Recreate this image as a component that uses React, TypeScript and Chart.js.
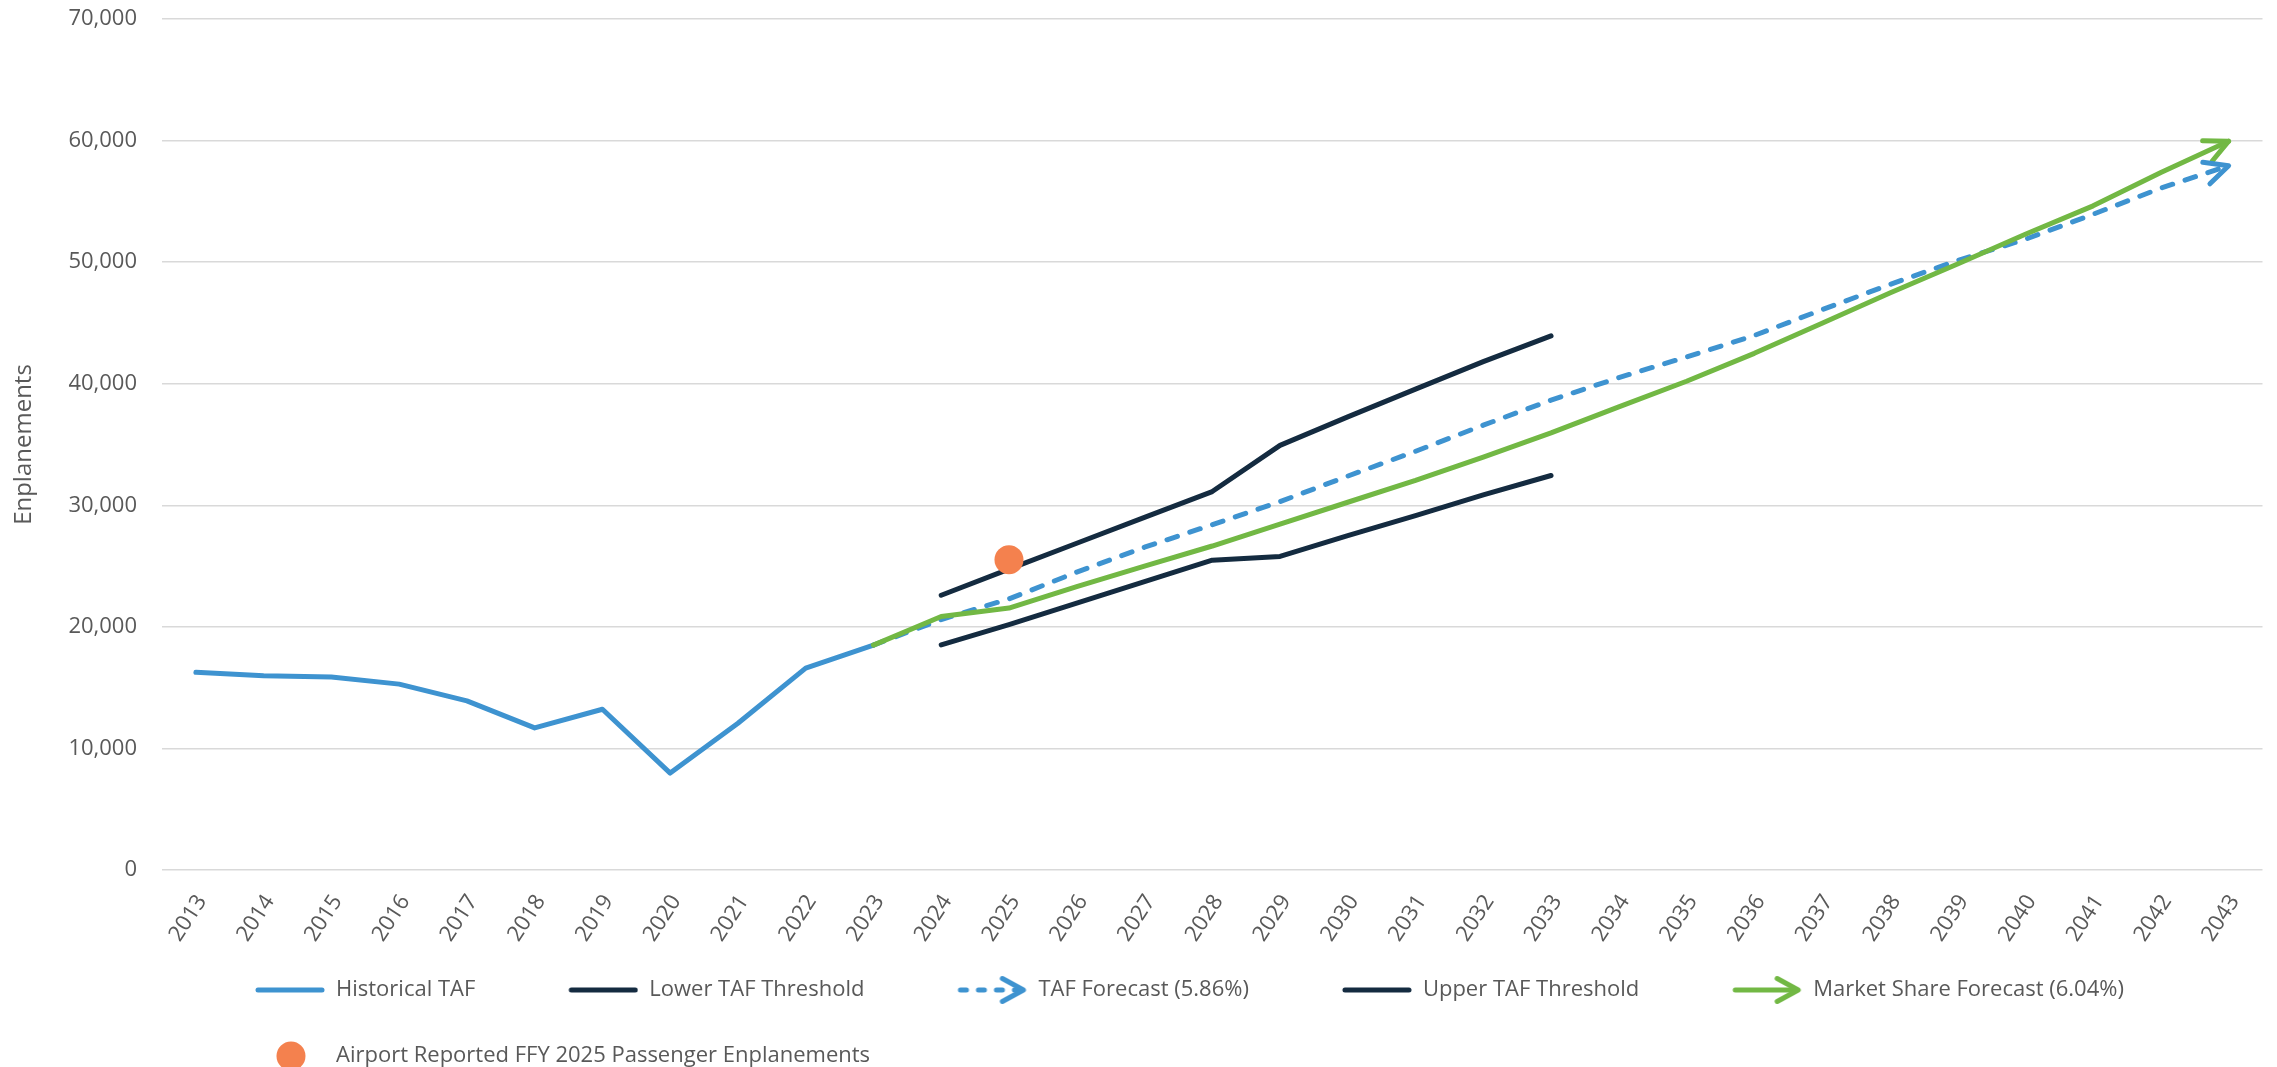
import React, { useEffect, useRef } from 'react';
import { Chart, registerables } from 'chart.js';

Chart.register(...registerables);

// ---------- DATA ----------
const years = [
  '2013', '2014', '2015', '2016', '2017', '2018', '2019', '2020', '2021', '2022',
  '2023', '2024', '2025', '2026', '2027', '2028', '2029', '2030', '2031', '2032',
  '2033', '2034', '2035', '2036', '2037', '2038', '2039', '2040', '2041', '2042', '2043',
];

const historicalTAF = [
  16260, 15980, 15870, 15290, 13910, 11690, 13220, 7970, 12070, 16610,
  18500, null, null, null, null, null, null, null, null, null,
  null, null, null, null, null, null, null, null, null, null, null,
];

const lowerThreshold = [
  null, null, null, null, null, null, null, null, null, null,
  null, 18520, 20190, 21950, 23720, 25480, 25790, 27500, 29150, 30850,
  32450, null, null, null, null, null, null, null, null, null, null,
];

const upperThreshold = [
  null, null, null, null, null, null, null, null, null, null,
  null, 22600, 24750, 26880, 29000, 31130, 34930, 37270, 39560, 41820,
  43940, null, null, null, null, null, null, null, null, null, null,
];

const tafForecast = [
  null, null, null, null, null, null, null, null, null, null,
  18500, 20600, 22300, 24500, 26550, 28400, 30300, 32400, 34440, 36590,
  38650, 40500, 42200, 43970, 46090, 48160, 50140, 51880, 53940, 56090, 57930,
];

const marketShareForecast = [
  null, null, null, null, null, null, null, null, null, null,
  18500, 20850, 21550, 23300, 25000, 26650, 28460, 30250, 32040, 33970,
  35950, 38100, 40200, 42500, 44980, 47460, 49850, 52290, 54630, 57380, 59950,
];

const reportedFFY2025 = [
  null, null, null, null, null, null, null, null, null, null,
  null, null, 25510, null, null, null, null, null, null, null,
  null, null, null, null, null, null, null, null, null, null, null,
];

const yTicksMax = 70000;
const yTickStep = 10000;

// ---------- STYLE ----------
const FONT = "'Open Sans', 'Noto Sans', 'DejaVu Sans', sans-serif";
const TEXT = '#595959';
const BLUE = '#3E93D0';
const NAVY = '#142B40';
const GREEN = '#72B844';
const ORANGE = '#F4814E';
const GRID = '#D9D9D9';

function drawChevron(ctx: CanvasRenderingContext2D, tx: number, ty: number, ang: number, len: number, spread: number) {
  ctx.beginPath();
  ctx.moveTo(tx - len * Math.cos(ang - spread), ty - len * Math.sin(ang - spread));
  ctx.lineTo(tx, ty);
  ctx.lineTo(tx - len * Math.cos(ang + spread), ty - len * Math.sin(ang + spread));
  ctx.stroke();
}

function makeIcon(kind: string, color: string): HTMLCanvasElement {
  const c = document.createElement('canvas');
  c.width = 119;
  c.height = 34;
  const ctx = c.getContext('2d') as CanvasRenderingContext2D;
  const y = 17;
  const x0 = 49;
  const x1 = 119;
  ctx.strokeStyle = color;
  ctx.fillStyle = color;
  ctx.lineWidth = 5;
  ctx.lineCap = 'round';
  ctx.lineJoin = 'round';
  if (kind === 'line') {
    ctx.beginPath();
    ctx.moveTo(x0 + 3, y);
    ctx.lineTo(x1 - 3, y);
    ctx.stroke();
  } else if (kind === 'dashArrow') {
    ctx.setLineDash([6, 12]);
    ctx.beginPath();
    ctx.moveTo(x0 + 3, y);
    ctx.lineTo(x1 - 8, y);
    ctx.stroke();
    ctx.setLineDash([]);
    drawChevron(ctx, x1 - 4, y, 0, 24, 0.5);
  } else if (kind === 'arrow') {
    ctx.beginPath();
    ctx.moveTo(x0 + 3, y);
    ctx.lineTo(x1 - 6, y);
    ctx.stroke();
    drawChevron(ctx, x1 - 4, y, 0, 24, 0.5);
  } else if (kind === 'dot') {
    ctx.beginPath();
    ctx.arc(85, y, 14.5, 0, Math.PI * 2);
    ctx.fill();
  }
  return c;
}

const arrowPlugin = {
  id: 'arrowHeads',
  afterLayout(chart: any) {
    // let rotated tick labels extend below the axis box (no clipping)
    const xs = chart.scales.x;
    if (xs) xs.bottom += 30;
  },
  afterDatasetsDraw(chart: any) {
    const ctx = chart.ctx as CanvasRenderingContext2D;
    chart.data.datasets.forEach((ds: any, i: number) => {
      if (!ds.arrowHead || !chart.isDatasetVisible(i)) return;
      const meta = chart.getDatasetMeta(i);
      const pts = meta.data.filter((p: any) => !p.skip && Number.isFinite(p.y));
      if (pts.length < 2) return;
      const a = pts[pts.length - 2];
      const b = pts[pts.length - 1];
      const ang = Math.atan2(b.y - a.y, b.x - a.x);
      ctx.save();
      ctx.strokeStyle = ds.borderColor;
      ctx.lineWidth = 5;
      ctx.lineCap = 'round';
      ctx.lineJoin = 'round';
      ctx.setLineDash([]);
      drawChevron(ctx, b.x, b.y, ang, 26, 0.45);
      ctx.restore();
    });
  },
};

export default function App() {
  const canvasRef = useRef<HTMLCanvasElement | null>(null);

  useEffect(() => {
    if (!canvasRef.current) return;

    const legendEntries = [
      { text: 'Historical TAF', ds: 5, icon: makeIcon('line', BLUE) },
      { text: 'Lower TAF Threshold', ds: 4, icon: makeIcon('line', NAVY) },
      { text: 'TAF Forecast (5.86%)', ds: 2, icon: makeIcon('dashArrow', BLUE) },
      { text: 'Upper TAF Threshold', ds: 3, icon: makeIcon('line', NAVY) },
      { text: 'Market Share Forecast (6.04%)', ds: 1, icon: makeIcon('arrow', GREEN) },
      { text: 'Airport Reported FFY 2025 Passenger Enplanements', ds: 0, icon: makeIcon('dot', ORANGE) },
    ];

    const font = { family: FONT, size: 22 };

    const chart = new Chart(canvasRef.current, {
      type: 'line',
      data: {
        labels: years,
        datasets: [
          {
            label: 'Airport Reported FFY 2025 Passenger Enplanements',
            data: reportedFFY2025,
            showLine: false,
            pointRadius: 14.5,
            pointHoverRadius: 14.5,
            pointBackgroundColor: ORANGE,
            pointBorderWidth: 0,
            borderColor: ORANGE,
            backgroundColor: ORANGE,
          },
          {
            label: 'Market Share Forecast (6.04%)',
            data: marketShareForecast,
            borderColor: GREEN,
            backgroundColor: GREEN,
            borderWidth: 5,
            pointRadius: 0,
            tension: 0,
            borderCapStyle: 'round',
            borderJoinStyle: 'round',
            arrowHead: true,
          } as any,
          {
            label: 'TAF Forecast (5.86%)',
            data: tafForecast,
            borderColor: BLUE,
            backgroundColor: BLUE,
            borderWidth: 5,
            borderDash: [11, 13],
            borderCapStyle: 'round',
            borderJoinStyle: 'round',
            pointRadius: 0,
            tension: 0,
            arrowHead: true,
          } as any,
          {
            label: 'Upper TAF Threshold',
            data: upperThreshold,
            borderColor: NAVY,
            backgroundColor: NAVY,
            borderWidth: 5,
            borderCapStyle: 'round',
            borderJoinStyle: 'round',
            pointRadius: 0,
            tension: 0,
          },
          {
            label: 'Lower TAF Threshold',
            data: lowerThreshold,
            borderColor: NAVY,
            backgroundColor: NAVY,
            borderWidth: 5,
            borderCapStyle: 'round',
            borderJoinStyle: 'round',
            pointRadius: 0,
            tension: 0,
          },
          {
            label: 'Historical TAF',
            data: historicalTAF,
            borderColor: BLUE,
            backgroundColor: BLUE,
            borderWidth: 5,
            borderCapStyle: 'round',
            borderJoinStyle: 'round',
            pointRadius: 0,
            tension: 0,
          },
        ],
      },
      options: {
        responsive: false,
        animation: false,
        layout: { padding: { top: 19, right: 11, bottom: 0, left: 0 } },
        plugins: {
          tooltip: { enabled: false },
          legend: {
            position: 'bottom',
            align: 'start',
            fullSize: false,
            labels: {
              usePointStyle: true,
              pointStyleWidth: 119,
              padding: 44,
              font,
              color: TEXT,
              generateLabels: (ch: any) =>
                legendEntries.map((e) => ({
                  text: e.text,
                  pointStyle: e.icon,
                  datasetIndex: e.ds,
                  hidden: !ch.isDatasetVisible(e.ds),
                  fillStyle: 'rgba(0,0,0,0)',
                  strokeStyle: 'rgba(0,0,0,0)',
                  lineWidth: 0,
                  fontColor: TEXT,
                  rotation: 0,
                })),
            },
          },
        },
        scales: {
          x: {
            type: 'category',
            offset: true,
            grid: { display: false },
            border: { display: false },
            ticks: {
              color: TEXT,
              font,
              minRotation: 57,
              maxRotation: 57,
              padding: 12,
              labelOffset: 6,
              autoSkip: false,
            },
            afterFit: (s: any) => {
              s.height = 65;
              s.paddingLeft = 0;
              s.paddingRight = 0;
            },
          },
          y: {
            min: 0,
            max: yTicksMax,
            grid: { color: GRID, lineWidth: 1.5, drawTicks: false },
            border: { display: false },
            ticks: { stepSize: yTickStep, color: TEXT, font, padding: 25 },
            title: {
              display: true,
              text: 'Enplanements',
              color: TEXT,
              font: { family: FONT, size: 24 },
              padding: { top: 10, bottom: 0 },
            },
            afterFit: (s: any) => {
              s.width = 162;
              s.paddingTop = 13;
              s.paddingBottom = 13;
            },
          },
        },
      } as any,
      plugins: [arrowPlugin],
    });

    return () => chart.destroy();
  }, []);

  return (
    <div style={{ position: 'fixed', left: 0, top: 0, width: 2277, height: 1077, background: '#ffffff', overflow: 'hidden' }}>
      <canvas ref={canvasRef} width={2277} height={1077} style={{ display: 'block' }} />
    </div>
  );
}
